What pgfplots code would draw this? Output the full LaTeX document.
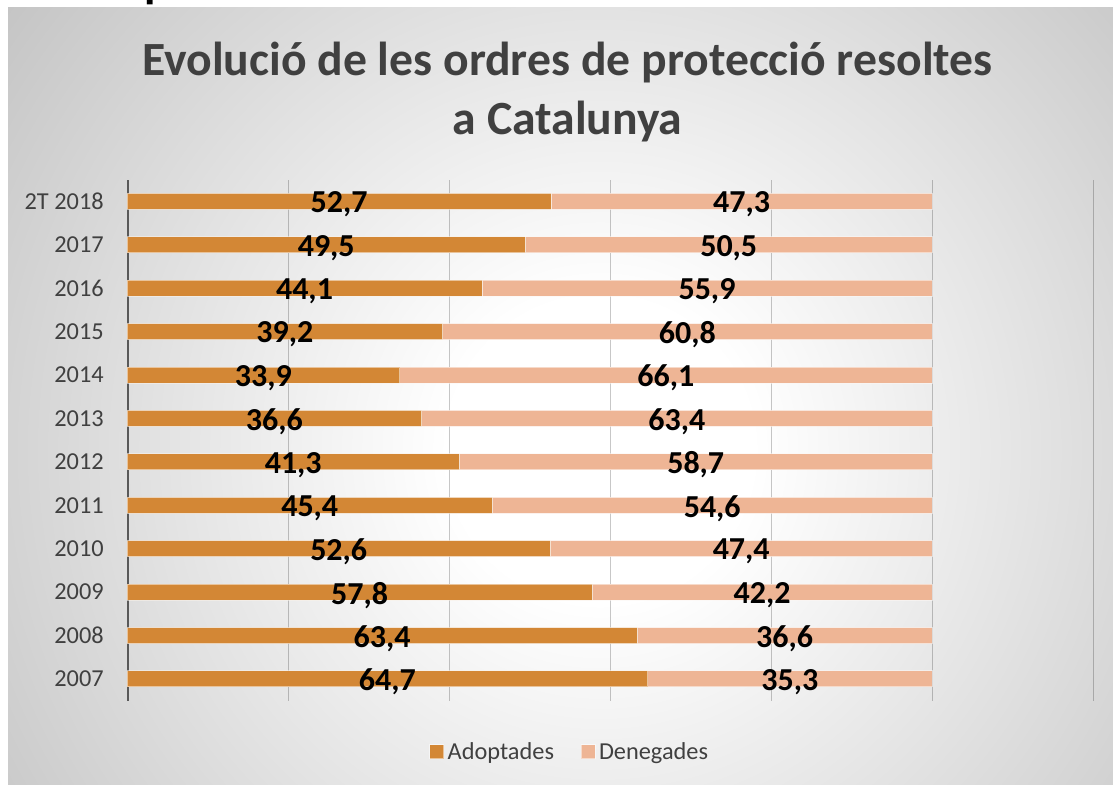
\documentclass[border=0pt]{standalone}
\usepackage{pgfplots}
\pgfplotsset{compat=1.18}
\usepackage{pgfplotstable}
\usepackage{fontspec}
\setmainfont{Carlito}
\definecolor{adopt}{RGB}{211,135,53}
\definecolor{deneg}{RGB}{238,181,149}
\definecolor{bgg}{RGB}{195,195,195}
\definecolor{txtg}{RGB}{64,64,64}
\definecolor{axg}{RGB}{89,89,89}
\pgfdeclareradialshading{bgshade}{\pgfpoint{0bp}{0bp}}{color(0bp)=(white); color(5bp)=(white); color(25bp)=(bgg); color(50bp)=(bgg)}
\pgfplotstableread{
idx a d
0 64.7 35.3
1 63.4 36.6
2 57.8 42.2
3 52.6 47.4
4 45.4 54.6
5 41.3 58.7
6 36.6 63.4
7 33.9 66.1
8 39.2 60.8
9 44.1 55.9
10 49.5 50.5
11 52.7 47.3
}\datatable
\begin{document}
\begin{tikzpicture}
\useasboundingbox (0,0) rectangle (667.8pt,471pt);
\fill[white] (0,0) rectangle (667.8pt,471pt);
\begin{scope}
\clip (4.8pt,0pt) rectangle (667.8pt,466.2pt);
\fill[bgg] (4.8pt,0pt) rectangle (667.8pt,466.2pt);
\shade[shading=bgshade] (360pt,201pt) circle (456pt);
\end{scope}
\begin{scope}
\clip (0pt,466.2pt) rectangle (667.8pt,471pt);
\node[anchor=base west, inner sep=0pt, font=\bfseries\fontsize{28}{28}\selectfont] at (86.5pt,472.6pt) {p};
\end{scope}
\node[anchor=base, inner sep=0pt, text=txtg, font=\bfseries\fontsize{28.6}{30}\selectfont] at (340.5pt,425.4pt) {Evolució de les ordres de protecció resoltes};
\node[anchor=base, inner sep=0pt, text=txtg, font=\bfseries\fontsize{28.6}{30}\selectfont] at (340.5pt,390pt) {a Catalunya};
\begin{axis}[
  at={(76.2pt,50.6pt)}, anchor=south west,
  scale only axis, width=579.6pt, height=312.6pt,
  xbar stacked, bar width=9.6pt,
  xmin=0, xmax=120, ymin=-0.5, ymax=11.5,
  xtick={20,40,60,80,100,120}, xticklabels={},
  ytick={0,...,11},
  yticklabels={2007,2008,2009,2010,2011,2012,2013,2014,2015,2016,2017,2T 2018},
  yticklabel style={font=\fontsize{14.6}{16}\selectfont, text=txtg, inner sep=0pt, xshift=-13.8pt},
  axis line style={draw=none},
  tick style={draw=none},
  xmajorgrids,
  grid style={line width=0.6pt, black, opacity=0.22},
  point meta=rawx,
  nodes near coords,
  every node near coord/.append style={anchor=center, text=black,
    font=\bfseries\fontsize{19.2}{21}\selectfont,
    /pgf/number format/use comma, /pgf/number format/fixed,
    /pgf/number format/precision=1, /pgf/number format/fixed zerofill,
    /pgf/number format/assume math mode=true},
  every node near coord/.append style={/tikz/yshift=-1.8pt},
  legend style={at={(0.459,-0.0985)}, anchor=center, draw=none, fill=none,
    legend columns=2, font=\fontsize{14.6}{16}\selectfont, text=txtg,
    /tikz/every even column/.append style={column sep=14pt}},
  legend image code/.code={\fill[#1] (0pt,-4.2pt) rectangle (8.4pt,4.2pt);},
]
\addplot[fill=adopt, draw=white, draw opacity=0.5, line width=0.6pt] table[x=a, y=idx] {\datatable};
\addplot[fill=deneg, draw=white, draw opacity=0.5, line width=0.6pt] table[x=d, y=idx] {\datatable};
\legend{Adoptades, Denegades}
\draw[line width=1.8pt, axg] (axis cs:0,-0.5) -- (axis cs:0,11.5);
\end{axis}
\end{tikzpicture}
\end{document}
